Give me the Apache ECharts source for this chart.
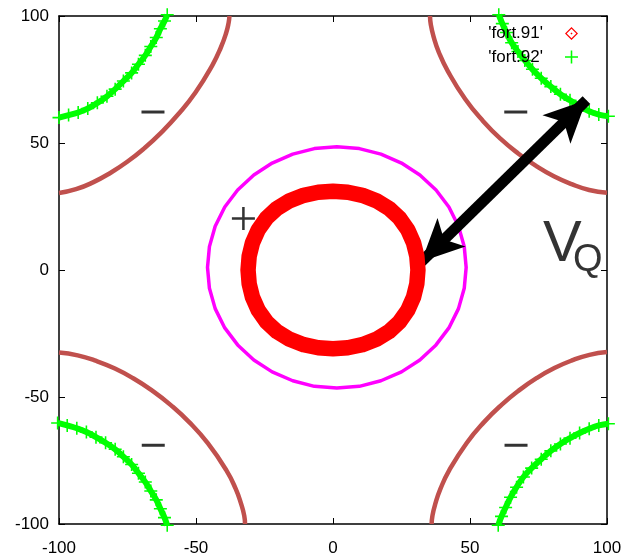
<!DOCTYPE html>
<html>
<head>
<meta charset="utf-8">
<script src="https://cdn.jsdelivr.net/npm/echarts@6/dist/echarts.min.js"></script>
<style>
  html, body { margin: 0; padding: 0; background: #fff; }
  #chart { width: 625px; height: 559px; }
</style>
</head>
<body>
<div id="chart"></div>
<script>
// tick labels
const xTicks = [-100, -50, 0, 50, 100];
const yTicks = [-100, -50, 0, 50, 100];

// 'fort.91' : thick red ring (middle of the band)
const fort91 = [
  [31, 0], [30.6, 5.4], [29.4, 10.7], [27.3, 15.8], [24.3, 20.4], [20.4, 24.3], [15.8, 27.3],
  [10.7, 29.4], [5.4, 30.6], [0, 31], [-5.4, 30.6], [-10.7, 29.4], [-15.8, 27.3], [-20.4, 24.3],
  [-24.3, 20.4], [-27.3, 15.8], [-29.4, 10.7], [-30.6, 5.4], [-31, 0], [-30.6, -5.4], [-29.4, -10.7],
  [-27.3, -15.8], [-24.3, -20.4], [-20.4, -24.3], [-15.8, -27.3], [-10.7, -29.4], [-5.4, -30.6],
  [0, -31], [5.4, -30.6], [10.7, -29.4], [15.8, -27.3], [20.4, -24.3], [24.3, -20.4], [27.3, -15.8],
  [29.4, -10.7], [30.6, -5.4], [31, 0], [30.6, 5.4]
];

// 'fort.92' : green crosses, one arc per corner
const fort92TopLeft = [
  [-100, 60], [-96.5, 61], [-93, 62], [-89.5, 63.6], [-86, 65.8], [-82.5, 68.4], [-79.5, 71.2],
  [-76.5, 74.4], [-73.5, 77.6], [-71, 81], [-68.5, 84.5], [-66.5, 88], [-64.5, 91.5],
  [-63, 95], [-61.5, 98], [-60.5, 100.5]
];
const fort92TopRight = [
  [60.5, 100.5], [61.8, 97], [63.3, 93.5], [65.2, 89.5], [67.5, 86], [70, 82.5], [72.8, 79],
  [76, 75.5], [79.5, 72.2], [83, 69.2], [86.5, 66.8], [90, 64.5], [93.5, 62.5], [97, 61.2], [100.5, 60.5]
];
const fort92BottomLeft = [
  [-100.5, -60.2], [-97, -61.2], [-93.5, -62.3], [-90, -63.8], [-86.5, -65.8], [-83, -68],
  [-79.5, -70.6], [-76.5, -73.5], [-73.5, -76.6], [-71, -80], [-68.5, -83.5], [-66.5, -87],
  [-64.5, -90.5], [-63, -94], [-61.5, -97.5], [-60.5, -100.5]
];
const fort92BottomRight = [
  [60.3, -100.5], [61.5, -97], [63, -93.5], [64.8, -89.5], [67, -85.5], [69.5, -81.5], [72.5, -78],
  [76, -74.5], [79.5, -71.2], [83, -68.5], [86.5, -66.2], [90, -64.2], [93.5, -62.5], [97, -61.2], [100.5, -60.5]
];

// brown contour arcs
const arcTopLeft = [
  [-100, 30.3], [-93.8, 31.8], [-87.6, 34.5], [-81.3, 38.2], [-75.1, 42.6], [-68.9, 47.9],
  [-62.7, 54.1], [-56.5, 61.3], [-50.2, 69.9], [-44, 80.7], [-40.9, 87.7], [-39, 93.3],
  [-38.1, 97.3], [-37.8, 100]
];
const arcTopRight = [
  [100, 30.4], [93.5, 31.5], [87.1, 33.8], [80.6, 36.9], [74.2, 40.9], [67.7, 45.8], [61.2, 51.6],
  [54.8, 58.6], [48.3, 67.2], [41.9, 78.3], [38.6, 85.8], [36.7, 91.9], [35.7, 96.6], [35.4, 100]
];
const arcBottomLeft = [
  [-100, -32.5], [-93.2, -33.6], [-86.4, -35.8], [-79.6, -38.8], [-72.8, -42.7], [-66.1, -47.4],
  [-59.3, -53.1], [-52.5, -59.9], [-45.7, -68.2], [-38.9, -78.9], [-35.5, -86.2], [-33.5, -92.2],
  [-32.4, -96.7], [-32.1, -100]
];
const arcBottomRight = [
  [100, -32.3], [93.6, -33.4], [87.2, -35.6], [80.8, -38.6], [74.4, -42.5], [68, -47.3], [61.6, -53],
  [55.2, -59.8], [48.8, -68.1], [42.4, -78.9], [39.2, -86.2], [37.3, -92.2], [36.3, -96.7], [36, -100]
];

// magenta circle
const magentaCircle = [
  [48.6, 1], [47.9, 9.2], [45.8, 17.2], [42.3, 24.8], [37.6, 31.5], [31.7, 37.4], [25, 42.1],
  [17.5, 45.6], [9.6, 47.8], [1.4, 48.5], [-6.8, 47.8], [-14.7, 45.6], [-22.2, 42.1], [-28.9, 37.4],
  [-34.8, 31.5], [-39.5, 24.8], [-43, 17.2], [-45.1, 9.2], [-45.8, 1], [-45.1, -7.2], [-43, -15.2],
  [-39.5, -22.8], [-34.8, -29.5], [-28.9, -35.4], [-22.2, -40.1], [-14.7, -43.6], [-6.8, -45.8],
  [1.4, -46.5], [9.6, -45.8], [17.5, -43.6], [25, -40.1], [31.7, -35.4], [37.6, -29.5], [42.3, -22.8],
  [45.8, -15.2], [47.9, -7.2], [48.6, 1], [47.9, 9.2]
];

// annotations
const minusSigns = [[-65.7, 62.2], [66.7, 62.2], [-65.6, -69], [66.8, -69]];
const plusSigns = [[-32.7, 20.3]];
const arrowStart = [32.3, 3.3];
const arrowEnd = [92.5, 66.9];
const labelV = [76.6, 9.8];
const labelQ = [87.6, 3.8];

const FONT = 'Liberation Sans, Arial, sans-serif';
const plusIcon = 'path://M4.4,0H5.6V4.4H10V5.6H5.6V10H4.4V5.6H0V4.4H4.4Z';
const thinPlus = 'path://M0,4.45H10V5.55H0Z M4.45,0H5.55V10H4.45Z';
const diamondIcon = 'path://M5,0L10,5L5,10L0,5Z M5,1.3L1.3,5L5,8.7L8.7,5Z M5,4.2L5.8,5L5,5.8L4.2,5Z';

const chart = echarts.init(document.getElementById('chart'), null, { renderer: 'canvas' });

function axisBase(extra) {
  return Object.assign({
    type: 'value',
    min: -100,
    max: 100,
    interval: 50,
    splitLine: { show: false },
    axisLine: { show: true, onZero: false, lineStyle: { color: '#000', width: 1.5 } },
    axisTick: { show: true, inside: true, length: 6, lineStyle: { color: '#000', width: 1 } }
  }, extra);
}

function brownArc(data) {
  return {
    type: 'line', data: data, smooth: true, showSymbol: false, clip: false, silent: true,
    lineStyle: { color: '#c0504d', width: 4.5 }, z: 2
  };
}

function greenArc(data) {
  return {
    name: "'fort.92'", type: 'line', data: data, smooth: true, clip: false, silent: true,
    symbol: plusIcon, symbolSize: 13, showSymbol: true,
    itemStyle: { color: '#00ff00' },
    lineStyle: { color: '#00ff00', width: 6 }, z: 3
  };
}

const option = {
  animation: false,
  grid: { left: 59, right: 18, top: 16, bottom: 35 },
  xAxis: [
    axisBase({ position: 'bottom',
      axisLabel: { color: '#000', fontFamily: FONT, fontSize: 17, margin: 16,
        formatter: v => xTicks.includes(v) ? String(v) : '' } }),
    axisBase({ position: 'top', axisLabel: { show: false } })
  ],
  yAxis: [
    axisBase({ position: 'left',
      axisLabel: { color: '#000', fontFamily: FONT, fontSize: 17, margin: 10,
        formatter: v => yTicks.includes(v) ? String(v) : '' } }),
    axisBase({ position: 'right', axisLabel: { show: false } })
  ],
  legend: {
    data: [
      { name: "'fort.91'", icon: diamondIcon, itemStyle: { color: '#ff0000', borderWidth: 0 } },
      { name: "'fort.92'", icon: plusIcon, itemStyle: { color: '#00ff00', borderWidth: 0 } }
    ],
    orient: 'vertical',
    right: 42,
    top: 20,
    align: 'right',
    itemWidth: 13,
    itemHeight: 13,
    itemGap: 6.5,
    selectedMode: false,
    textStyle: { color: '#000', fontFamily: FONT, fontSize: 17, padding: [0, 17, 0, 0] }
  },
  series: [
    brownArc(arcTopLeft), brownArc(arcTopRight), brownArc(arcBottomLeft), brownArc(arcBottomRight),
    greenArc(fort92TopLeft), greenArc(fort92TopRight), greenArc(fort92BottomLeft), greenArc(fort92BottomRight),
    {
      type: 'line', data: magentaCircle, smooth: false, showSymbol: false, silent: true,
      lineStyle: { color: '#ff00ff', width: 3.5, join: 'round' }, z: 4
    },
    {
      name: "'fort.91'", type: 'line', data: fort91, smooth: false, showSymbol: false, silent: true,
      itemStyle: { color: '#ff0000' },
      lineStyle: { color: '#ff0000', width: 15.5, join: 'round' }, z: 5
    },
    {
      // double arrow (V_Q)
      type: 'line', data: [], silent: true, z: 6,
      markLine: {
        silent: true, animation: false,
        symbol: ['arrow', 'arrow'],
        symbolSize: [30, 42],
        label: { show: false },
        lineStyle: { color: '#000', width: 11, type: 'solid' },
        emphasis: { disabled: true },
        data: [[{ coord: arrowStart }, { coord: arrowEnd }]]
      }
    },
    {
      type: 'scatter', data: minusSigns, symbol: 'rect', symbolSize: [23, 3], silent: true,
      itemStyle: { color: '#000' }, z: 7
    },
    {
      type: 'scatter', data: plusSigns, symbol: thinPlus, symbolSize: 23, silent: true,
      itemStyle: { color: '#000' }, z: 7
    },
    {
      type: 'scatter', data: [labelV], symbolSize: 0, silent: true, z: 7,
      label: { show: true, position: 'inside', formatter: 'V', align: 'left', verticalAlign: 'middle',
        color: '#000', fontFamily: 'Liberation Sans Narrow, ' + FONT, fontSize: 58 }
    },
    {
      type: 'scatter', data: [labelQ], symbolSize: 0, silent: true, z: 7,
      label: { show: true, position: 'inside', formatter: 'Q', align: 'left', verticalAlign: 'middle',
        color: '#000', fontFamily: FONT, fontSize: 38 }
    }
  ]
};

chart.setOption(option);
</script>
</body>
</html>
